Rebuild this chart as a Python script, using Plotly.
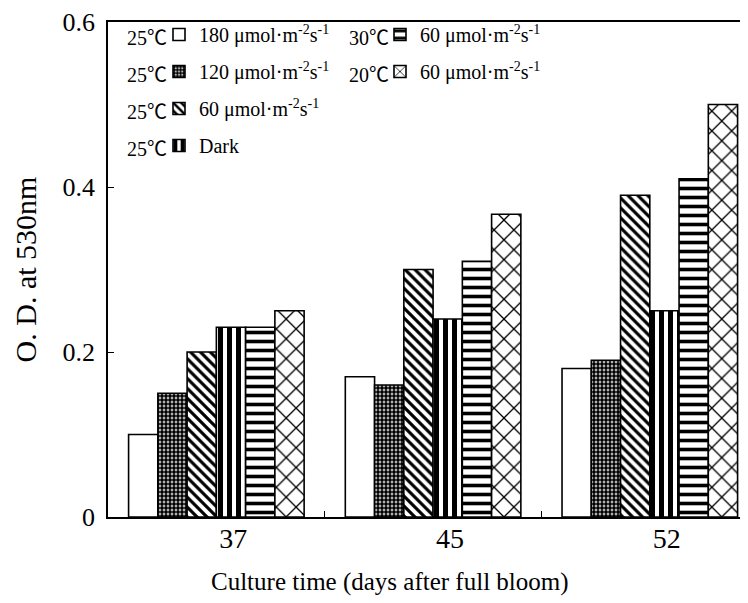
import plotly.graph_objects as go

days = ["37", "45", "52"]
series_names = [
    "180 μmol·m<sup>-2</sup>s<sup>-1</sup>",
    "120 μmol·m<sup>-2</sup>s<sup>-1</sup>",
    "60 μmol·m<sup>-2</sup>s<sup>-1</sup>",
    "Dark",
    "60 μmol·m<sup>-2</sup>s<sup>-1</sup>",
    "60 μmol·m<sup>-2</sup>s<sup>-1</sup>",
]
temps = ["25℃", "25℃", "25℃", "25℃", "30℃", "20℃"]
v_25_180 = [0.10, 0.17, 0.18]
v_25_120 = [0.15, 0.16, 0.19]
v_25_60 = [0.20, 0.30, 0.39]
v_25_dark = [0.23, 0.24, 0.25]
v_30_60 = [0.23, 0.31, 0.41]
v_20_60 = [0.25, 0.367, 0.50]
values = [v_25_180, v_25_120, v_25_60, v_25_dark, v_30_60, v_20_60]

patterns = [
    dict(shape=""),
    dict(shape=".", size=4, solidity=0.75),
    dict(shape="\\", size=7, solidity=0.45),
    dict(shape="|", size=9, solidity=0.55),
    dict(shape="-", size=9, solidity=0.4),
    dict(shape="x", size=14, solidity=0.18),
]
legends = ["legend", "legend", "legend", "legend", "legend2", "legend2"]

xpos = list(range(len(days)))
FONT = "Liberation Serif, Times New Roman, Noto Sans CJK SC, serif"

W, H = 748, 603
L, R, T, B = 100, 0, 14, 93.5
pw, ph = W - L - R, H - T - B


def px(x):
    return (x - L) / pw


def py(y):
    return (H - B - y) / ph


fig = go.Figure()
for i in range(len(values)):
    pat = dict(patterns[i])
    pat.update(fgcolor="black", bgcolor="white", fgopacity=1)
    fig.add_trace(go.Bar(
        x=xpos, y=values[i], name=series_names[i],
        legend=legends[i], legendgroup="g%d" % i,
        marker=dict(color="white", line=dict(color="black", width=1.6), pattern=pat),
    ))

# temperature prefixes for legend rows
row_y = [30, 67, 104, 141, 30, 67]
row_x = [161, 161, 161, 161, 383, 383]
for i in range(len(temps)):
    fig.add_annotation(
        x=px(row_x[i]), y=py(row_y[i]), xref="paper", yref="paper",
        text=temps[i], showarrow=False, xanchor="right", yanchor="middle",
        font=dict(size=20, family=FONT, color="black"),
    )

# x-axis title
fig.add_annotation(
    x=px(382), y=py(575), xref="paper", yref="paper",
    text="Culture time (days after full bloom)", showarrow=False,
    xanchor="center", yanchor="middle", font=dict(size=25, family=FONT, color="black"),
)

fig.update_layout(
    width=W, height=H,
    margin=dict(l=L, r=R, t=T, b=B, autoexpand=False),
    paper_bgcolor="white", plot_bgcolor="white",
    barmode="group", bargap=0.19, bargroupgap=0,
    font=dict(family=FONT, color="black"),
    legend=dict(x=px(151), y=py(7),
                xanchor="left", yanchor="top", bgcolor="rgba(0,0,0,0)",
                font=dict(size=20, family=FONT), tracegroupgap=8),
    legend2=dict(x=px(372), y=py(7),
                 xanchor="left", yanchor="top", bgcolor="rgba(0,0,0,0)",
                 font=dict(size=20, family=FONT), tracegroupgap=8),
    xaxis=dict(
        range=[-0.5, 2.49], showline=True, linecolor="black", linewidth=1.5, mirror=True,
        tickmode="array", tickvals=[p + 0.078 for p in xpos], ticktext=days, ticks="",
        tickfont=dict(size=28, family=FONT), showgrid=False, zeroline=False,
        automargin=False, ticklabelstandoff=-4, ticklabeloverflow="allow",
        minor=dict(tickmode="array", tickvals=[0.5, 1.5], ticks="inside", ticklen=6,
                   tickcolor="black", tickwidth=1),
    ),
    yaxis=dict(
        range=[0, 0.6], showline=True, linecolor="black", linewidth=1.5, mirror=True,
        tickmode="array", tickvals=[0, 0.2, 0.4, 0.6], ticktext=["0", "0.2", "0.4", "0.6"],
        ticks="inside", ticklen=6, tickcolor="black", tickwidth=1,
        tickfont=dict(size=26, family=FONT), showgrid=False, zeroline=False,
        ticklabelstandoff=6, automargin=False, ticklabeloverflow="allow",
        title=dict(text="O. D. at 530nm", font=dict(size=30, family=FONT), standoff=17),
    ),
)

fig.write_html("out.html")
